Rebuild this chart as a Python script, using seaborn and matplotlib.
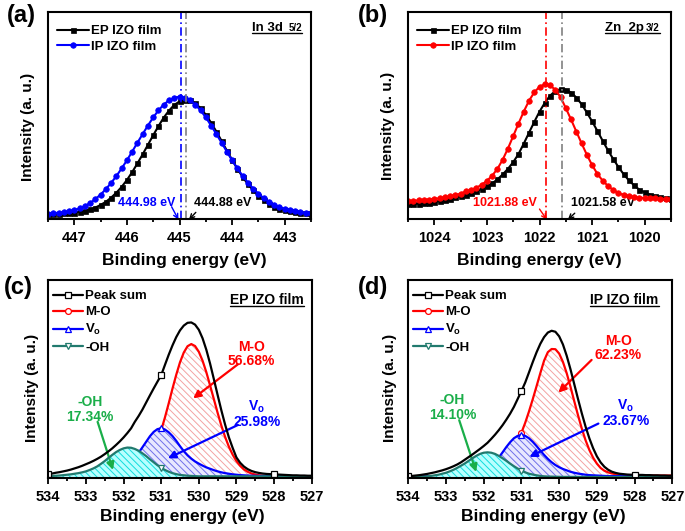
import matplotlib

matplotlib.use("Agg")
import matplotlib.pyplot as plt
import numpy as np
import seaborn as sns
from matplotlib.ticker import MultipleLocator

# ------------------------------------------------------------------ data
# binding-energy sampling of each scan (eV, high -> low)
in3d_energy = np.linspace(447.5, 442.5, 51)
zn2p_energy = np.linspace(1024.5, 1019.5, 51)
o1s_energy = np.linspace(534.0, 527.0, 71)

# (a) In 3d5/2, intensity in a.u.
in3d_ep = [2.5, 2.5, 2.6, 2.7, 2.9, 3.1, 3.5, 3.9, 4.6, 5.5,
           6.8, 8.3, 10.3, 12.7, 15.5, 18.8, 22.6, 26.8, 31.2, 35.8,
           40.4, 44.8, 48.9, 52.3, 55.0, 56.7, 57.5, 57.2, 55.8, 53.5,
           50.3, 46.5, 42.2, 37.7, 33.0, 28.5, 24.2, 20.3, 16.8, 13.8,
           11.2, 9.1, 7.4, 6.0, 5.0, 4.2, 3.7, 3.2, 3.0, 2.8, 2.6]
in3d_ip = [2.6, 2.8, 3.0, 3.3, 3.7, 4.3, 5.1, 6.2, 7.7, 9.6,
           11.8, 14.4, 17.4, 20.7, 24.4, 28.3, 32.5, 36.8, 41.0, 45.1,
           49.0, 52.4, 55.2, 57.2, 58.5, 59.0, 58.6, 57.3, 55.2, 52.4,
           49.0, 45.1, 41.0, 36.8, 32.5, 28.3, 24.4, 20.8, 17.6, 14.7,
           12.2, 10.1, 8.3, 6.9, 5.8, 4.9, 4.2, 3.7, 3.3, 3.0, 2.8]
in3d_peak_ep = 444.88
in3d_peak_ip = 444.98

# (b) Zn 2p3/2
zn2p_ep = [7.1, 7.2, 7.4, 7.6, 7.9, 8.2, 8.6, 9.1, 9.7, 10.4,
           11.0, 11.8, 12.6, 13.5, 14.5, 15.7, 17.2, 19.1, 21.5, 24.2,
           27.4, 31.3, 36.3, 41.6, 46.8, 51.8, 56.0, 59.5, 61.7, 62.7,
           62.4, 61.0, 58.6, 55.4, 51.4, 47.1, 42.5, 37.8, 33.2, 29.0,
           25.1, 21.6, 18.6, 16.2, 14.1, 12.8, 11.8, 11.0, 10.4, 10.0, 9.6]
zn2p_ip = [8.7, 8.8, 9.0, 9.2, 9.4, 9.7, 10.0, 10.4, 10.9, 11.5,
           12.3, 13.3, 14.0, 15.1, 16.5, 18.4, 20.9, 24.2, 28.6, 34.0,
           40.0, 46.0, 51.8, 57.0, 61.1, 63.8, 65.0, 64.4, 62.4, 58.8,
           53.5, 48.0, 42.2, 36.5, 31.0, 26.0, 21.8, 18.5, 16.0, 14.0,
           12.6, 11.6, 11.0, 10.6, 10.3, 10.1, 10.0, 9.9, 9.8, 9.7, 9.6]
zn2p_peak_ep = 1021.58
zn2p_peak_ip = 1021.88

# (c) O 1s, EP IZO film
ep_total = [2.0, 2.4, 2.8, 3.1, 3.5, 3.9, 4.4, 5.0, 5.6, 6.3,
            7.1, 7.9, 8.8, 9.8, 10.9, 12.2, 13.6, 15.1, 16.8, 18.6,
            20.6, 22.8, 25.2, 28.5, 31.4, 34.6, 38.2, 41.8, 45.3, 48.7,
            52.0, 57.2, 62.3, 67.0, 71.2, 74.6, 77.0, 78.4, 78.6, 77.5,
            74.9, 70.6, 64.8, 57.8, 50.0, 42.0, 34.2, 27.0, 20.6, 15.3,
            10.5, 7.8, 5.9, 4.6, 3.7, 3.1, 2.7, 2.4, 2.2, 2.1,
            2.0, 1.9, 1.8, 1.7, 1.6, 1.5, 1.5, 1.4, 1.4, 1.3, 1.3]
ep_mo = [1.0, 1.0, 1.0, 1.0, 1.0, 1.0, 1.0, 1.0, 1.0, 1.0,
         1.0, 1.0, 1.0, 1.0, 1.0, 1.0, 1.0, 1.0, 1.1, 1.2,
         1.3, 1.6, 2.0, 2.6, 3.6, 5.1, 7.2, 10.1, 13.8, 18.5,
         24.2, 30.7, 37.8, 45.2, 52.2, 58.5, 63.4, 66.6, 67.7, 66.7,
         63.8, 59.3, 53.5, 46.8, 39.9, 33.0, 26.5, 20.8, 15.9, 11.9,
         8.7, 6.3, 4.5, 3.3, 2.4, 1.9, 1.5, 1.3, 1.2, 1.1,
         1.1, 1.0, 1.0, 1.0, 1.0, 1.0, 1.0, 1.0, 1.0, 1.0, 1.0]
ep_vo = [1.0, 1.0, 1.0, 1.0, 1.0, 1.05, 1.05, 1.05, 1.1, 1.1,
         1.1, 1.1, 1.2, 1.3, 1.4, 1.6, 1.9, 2.3, 2.9, 3.8,
         4.9, 6.4, 8.2, 10.4, 12.9, 15.6, 18.4, 21.2, 23.4, 24.8,
         25.2, 24.6, 23.2, 21.3, 18.9, 16.2, 13.7, 11.6, 9.9, 8.5,
         7.4, 6.4, 5.5, 4.8, 4.1, 3.5, 3.0, 2.6, 2.3, 2.0,
         1.8, 1.6, 1.5, 1.4, 1.3, 1.25, 1.2, 1.2, 1.15, 1.1,
         1.1, 1.1, 1.05, 1.05, 1.05, 1.0, 1.0, 1.0, 1.0, 1.0, 1.0]
ep_oh = [1.1, 1.2, 1.3, 1.4, 1.6, 1.8, 2.0, 2.3, 2.6, 3.0,
         3.5, 4.2, 5.0, 6.0, 7.3, 8.7, 10.3, 11.8, 13.2, 14.3,
         15.1, 15.5, 15.4, 14.8, 13.9, 12.6, 11.2, 9.6, 8.1, 6.6,
         5.3, 4.2, 3.3, 2.6, 2.1, 1.7, 1.5, 1.3, 1.2, 1.1,
         1.0, 1.0, 1.0, 1.0, 1.0, 1.0, 1.0, 1.0, 1.0, 1.0,
         1.0, 1.0, 1.0, 1.0, 1.0, 1.0, 1.0, 1.0, 1.0, 1.0,
         1.0, 1.0, 1.0, 1.0, 1.0, 1.0, 1.0, 1.0, 1.0, 1.0, 1.0]
ep_shares = ["56.68%", "25.98%", "17.34%"]

# (d) O 1s, IP IZO film
ip_total = [1.0, 1.2, 1.4, 1.6, 1.9, 2.2, 2.6, 3.0, 3.5, 4.0,
            4.6, 5.3, 6.1, 7.0, 8.1, 9.4, 10.7, 12.0, 13.4, 14.8,
            16.3, 17.9, 19.9, 22.0, 24.3, 26.8, 29.6, 32.6, 36.0, 40.0,
            44.0, 48.3, 53.4, 58.6, 63.5, 67.8, 71.2, 73.5, 74.4, 73.9,
            71.6, 67.5, 61.8, 55.0, 47.5, 40.0, 32.8, 26.1, 20.2, 15.2,
            11.1, 8.0, 5.8, 4.3, 3.3, 2.7, 2.3, 2.1, 1.9, 1.8,
            1.8, 1.7, 1.7, 1.6, 1.6, 1.5, 1.5, 1.4, 1.4, 1.3, 1.3]
ip_mo = [1.0, 1.0, 1.0, 1.0, 1.0, 1.0, 1.0, 1.0, 1.0, 1.0,
         1.0, 1.0, 1.0, 1.0, 1.0, 1.0, 1.0, 1.0, 1.2, 1.3,
         1.5, 1.9, 2.5, 3.4, 4.7, 6.4, 8.6, 11.3, 14.5, 18.6,
         23.0, 28.0, 33.7, 39.9, 46.4, 53.0, 59.3, 63.6, 65.2, 65.1,
         62.9, 58.7, 53.0, 46.2, 38.9, 31.8, 25.1, 19.2, 14.3, 10.4,
         7.4, 5.2, 3.8, 3.0, 2.4, 2.1, 1.9, 1.7, 1.6, 1.5,
         1.5, 1.4, 1.4, 1.4, 1.4, 1.4, 1.4, 1.4, 1.4, 1.4, 1.4]
ip_vo = [1.0, 1.0, 1.0, 1.0, 1.0, 1.0, 1.0, 1.05, 1.05, 1.05,
         1.1, 1.1, 1.1, 1.1, 1.2, 1.3, 1.5, 1.8, 2.2, 2.8,
         3.6, 4.8, 6.3, 8.2, 10.5, 13.1, 15.8, 18.2, 20.2, 21.4,
         21.8, 21.4, 20.2, 18.4, 16.3, 14.0, 11.8, 9.8, 8.1, 6.7,
         5.6, 4.7, 4.0, 3.3, 2.8, 2.4, 2.1, 1.8, 1.6, 1.5,
         1.4, 1.3, 1.2, 1.1, 1.1, 1.1, 1.1, 1.05, 1.05, 1.05,
         1.05, 1.0, 1.0, 1.0, 1.0, 1.0, 1.0, 1.0, 1.0, 1.0, 1.0]
ip_oh = [0.7, 0.7, 0.75, 0.8, 0.9, 1.0, 1.2, 1.5, 1.8, 2.3,
         2.8, 3.5, 4.3, 5.3, 6.4, 7.5, 8.8, 10.1, 11.3, 12.3,
         12.9, 13.1, 12.9, 12.3, 11.3, 10.1, 8.8, 7.4, 6.1, 4.9,
         3.8, 3.0, 2.3, 1.9, 1.5, 1.2, 1.0, 0.9, 0.85, 0.8,
         0.75, 0.7, 0.7, 0.7, 0.7, 0.7, 0.7, 0.7, 0.7, 0.7,
         0.7, 0.7, 0.7, 0.7, 0.7, 0.7, 0.7, 0.7, 0.7, 0.7,
         0.7, 0.7, 0.7, 0.7, 0.7, 0.7, 0.7, 0.7, 0.7, 0.7, 0.7]
ip_shares = ["62.23%", "23.67%", "14.10%"]

# ------------------------------------------------------------------ style
RED = "#ff0000"
BLUE = "#0000ff"
TEAL = "#217a6e"
GREEN = "#1aae49"
GRAY = "#808080"
DASHDOT = (0, (5, 2, 1, 2))
VO = r"V$_\mathrm{o}$"

sns.set_style("ticks")
plt.rcParams.update(
    {
        "font.family": ["Liberation Sans", "DejaVu Sans"],
        "font.weight": "bold",
        "axes.labelweight": "bold",
        "text.color": "black",
        "axes.labelcolor": "black",
        "axes.edgecolor": "black",
        "xtick.color": "black",
        "axes.linewidth": 1.5,
        "xtick.direction": "out",
        "xtick.major.size": 4.0,
        "xtick.minor.size": 2.5,
        "xtick.major.width": 1.3,
        "xtick.minor.width": 1.3,
        "xtick.major.pad": 4.5,
        "xtick.minor.pad": 4.5,
        "xtick.labelsize": 10.5,
        "mathtext.fontset": "custom",
        "mathtext.rm": "Liberation Sans:bold",
        "mathtext.it": "Liberation Sans:bold",
        "mathtext.bf": "Liberation Sans:bold",
        "mathtext.default": "rm",
        "hatch.linewidth": 0.7,
    }
)


def style_axes(ax, xlim, ylabel_xy, xlabel_xy):
    ax.set_xlim(*xlim)
    ax.set_ylim(0, 100)
    ax.xaxis.set_major_locator(MultipleLocator(1))
    ax.xaxis.set_minor_locator(MultipleLocator(0.5))
    ax.set_yticks([])
    ax.tick_params(axis="x", which="both", top=False, bottom=True)
    for spine in ax.spines.values():
        spine.set_linewidth(1.5)
        spine.set_zorder(10)
    ax.set_xlabel("Binding energy (eV)", fontsize=12.5)
    ax.set_ylabel("Intensity (a. u.)", fontsize=11)
    ax.yaxis.set_label_coords(*ylabel_xy)
    ax.xaxis.set_label_coords(*xlabel_xy)


def arrow(ax, tail, head, color, lw=1.0, style="->", scale=8):
    ax.annotate("", xy=head, xytext=tail, annotation_clip=False,
                arrowprops=dict(arrowstyle=style, color=color, lw=lw,
                                mutation_scale=scale, shrinkA=0, shrinkB=0))


def corner_label(ax, main, small, x0, x1, y, size=9.5):
    t1 = ax.text(x0, y, main, transform=ax.transAxes, ha="left", va="baseline", fontsize=size)
    t2 = ax.text(x1, y, small, transform=ax.transAxes, ha="right", va="baseline", fontsize=size - 2.5) if small else None
    return (ax, [t for t in (t1, t2) if t is not None], y)


def core_level_panel(ax, energy, ep, ip, ip_color, ep_peak, ip_peak):
    sns.lineplot(x=energy, y=ep, ax=ax, estimator=None, sort=False, color="black",
                 linewidth=1.5, marker="s", markersize=3.6, markerfacecolor="black",
                 markeredgecolor="black", markeredgewidth=0.5, label="EP IZO film", zorder=3)
    sns.lineplot(x=energy, y=ip, ax=ax, estimator=None, sort=False, color=ip_color,
                 linewidth=1.5, marker="o", markersize=4.0, markerfacecolor=ip_color,
                 markeredgecolor=ip_color, markeredgewidth=0.5, label="IP IZO film", zorder=4)
    ax.axvline(ip_peak, color=ip_color, lw=1.2, ls=DASHDOT, zorder=5)
    ax.axvline(ep_peak, color=GRAY, lw=1.2, ls=DASHDOT, zorder=5)
    ax.legend(loc="upper left", bbox_to_anchor=(0.034, 0.935), frameon=False, borderpad=0,
              borderaxespad=0, handlelength=2.4, handletextpad=0.15, labelspacing=0.25,
              fontsize=9.5)


def o1s_panel(ax, total, mo, vo, oh):
    components = [
        (mo, "M-O", RED, "white", "#f3a3a3", "o"),
        (vo, VO, BLUE, "#e8e8ff", "#7070e8", "^"),
        (oh, "-OH", TEAL, "#b8ffff", "#10dcdc", "v"),
    ]
    for k, (vals, label, color, face, hatch_color, marker) in enumerate(components):
        ax.fill_between(o1s_energy, 0, vals, facecolor=face, edgecolor=hatch_color,
                        hatch="\\\\\\\\\\", linewidth=0, zorder=1 + k)
        sns.lineplot(x=o1s_energy, y=vals, ax=ax, estimator=None, sort=False, color=color,
                     linewidth=1.6, marker=marker, markersize=4.2, markerfacecolor="white",
                     markeredgecolor=color, markeredgewidth=0.9, markevery=30, label=label,
                     zorder=1.5 + k)
    sns.lineplot(x=o1s_energy, y=total, ax=ax, estimator=None, sort=False, color="black",
                 linewidth=1.6, marker="s", markersize=4.0, markerfacecolor="white",
                 markeredgecolor="black", markeredgewidth=0.9, markevery=30, label="Peak sum",
                 zorder=5)
    handles, labels = ax.get_legend_handles_labels()
    lookup = dict(zip(labels, handles))
    order = ["Peak sum", "M-O", VO, "-OH"]
    ax.legend([lookup[o] for o in order], order, loc="upper left", bbox_to_anchor=(0.017, 0.95),
              frameon=False, borderpad=0, borderaxespad=0, handlelength=2.3, handletextpad=0.15,
              labelspacing=0.3, fontsize=9.5)


fig = plt.figure(figsize=(6.85, 5.31), dpi=100)
ax_a = fig.add_axes([48 / 685, 1 - 219 / 531, 263 / 685, 207.3 / 531])
ax_b = fig.add_axes([408 / 685, 1 - 219 / 531, 263 / 685, 207.3 / 531])
ax_c = fig.add_axes([48.3 / 685, 1 - 478.3 / 531, 263.4 / 685, 198.3 / 531])
ax_d = fig.add_axes([408.3 / 685, 1 - 478.3 / 531, 264 / 685, 198.3 / 531])

underlines = []

# (a)
core_level_panel(ax_a, in3d_energy, in3d_ep, in3d_ip, BLUE, in3d_peak_ep, in3d_peak_ip)
style_axes(ax_a, (447.5, 442.5), (-0.049, 0.444), (0.52, -0.165))
ax_a.text(445.62, 7.6, f"{in3d_peak_ip:.2f} eV", color=BLUE, ha="center", va="center", fontsize=9)
ax_a.text(444.18, 7.6, f"{in3d_peak_ep:.2f} eV", color="black", ha="center", va="center", fontsize=9)
arrow(ax_a, (445.15, 5.9), (445.02, -0.3), BLUE)
arrow(ax_a, (444.69, 3.2), (444.82, -0.3), "black")
underlines.append(corner_label(ax_a, "In 3d", "5/2", 0.776, 0.966, 0.907))

# (b)
core_level_panel(ax_b, zn2p_energy, zn2p_ep, zn2p_ip, RED, zn2p_peak_ep, zn2p_peak_ip)
style_axes(ax_b, (1024.5, 1019.5), (-0.049, 0.449), (0.5, -0.165))
ax_b.text(1022.65, 7.7, f"{zn2p_peak_ip:.2f} eV", color=RED, ha="center", va="center", fontsize=9)
ax_b.text(1020.80, 7.7, f"{zn2p_peak_ep:.2f} eV", color="black", ha="center", va="center", fontsize=9)
arrow(ax_b, (1022.0, 4.8), (1021.86, -0.3), RED)
arrow(ax_b, (1021.33, 2.8), (1021.46, -0.3), "black")
underlines.append(corner_label(ax_b, "Zn  2p", "3/2", 0.749, 0.958, 0.907))

# (c)
o1s_panel(ax_c, ep_total, ep_mo, ep_vo, ep_oh)
style_axes(ax_c, (534, 527), (-0.036, 0.458), (0.51, -0.155))
ax_c.text(528.6, 62.6, f"M-O\n{ep_shares[0]}", color=RED, ha="center", va="center", fontsize=10, linespacing=1.05)
ax_c.text(528.46, 32.3, f"{VO}\n{ep_shares[1]}", color=BLUE, ha="center", va="center", fontsize=10, linespacing=1.0)
ax_c.text(532.89, 34.8, f"-OH\n{ep_shares[2]}", color=GREEN, ha="center", va="center", fontsize=10, linespacing=1.05)
arrow(ax_c, (528.96, 57.5), (530.15, 40.3), RED, lw=1.6, style="-|>", scale=11)
arrow(ax_c, (528.96, 26.9), (530.82, 10.1), BLUE, lw=1.6, style="-|>", scale=11)
arrow(ax_c, (532.69, 28.5), (532.28, 4.2), GREEN, lw=1.6, style="-|>", scale=11)
underlines.append(corner_label(ax_c, "EP IZO film", None, 0.690, 0.975, 0.881, size=10))

# (d)
o1s_panel(ax_d, ip_total, ip_mo, ip_vo, ip_oh)
style_axes(ax_d, (534, 527), (-0.043, 0.458), (0.51, -0.155))
ax_d.text(528.43, 65.8, f"M-O\n{ip_shares[0]}", color=RED, ha="center", va="center", fontsize=10, linespacing=1.05)
ax_d.text(528.23, 33.1, f"{VO}\n{ip_shares[1]}", color=BLUE, ha="center", va="center", fontsize=10, linespacing=1.0)
ax_d.text(532.83, 35.7, f"-OH\n{ip_shares[2]}", color=GREEN, ha="center", va="center", fontsize=10, linespacing=1.05)
arrow(ax_d, (529.14, 59.7), (530.02, 43.2), RED, lw=1.6, style="-|>", scale=11)
arrow(ax_d, (528.96, 27.6), (530.79, 10.8), BLUE, lw=1.6, style="-|>", scale=11)
arrow(ax_d, (532.65, 29.3), (532.2, 3.2), GREEN, lw=1.6, style="-|>", scale=11)
underlines.append(corner_label(ax_d, "IP IZO film", None, 0.690, 0.972, 0.881, size=10))

for label, (x, y) in zip("abcd", [(0.031, 0.970), (0.545, 0.970), (0.027, 0.4595), (0.545, 0.4595)]):
    fig.text(x, y, f"({label})", fontsize=17, ha="center", va="center")

# underline the corner labels using their rendered extents
fig.canvas.draw()
renderer = fig.canvas.get_renderer()
for ax, texts, y in underlines:
    boxes = [t.get_window_extent(renderer) for t in texts]
    x0 = min(b.x0 for b in boxes)
    x1 = max(b.x1 for b in boxes)
    inv = ax.transAxes.inverted()
    (ax0, _), (ax1, _) = inv.transform([[x0, 0], [x1, 0]])
    dy = 2.0 / ax.bbox.height
    ax.plot([ax0, ax1], [y - dy, y - dy], transform=ax.transAxes, color="black", lw=1.0,
            clip_on=False, zorder=10)

fig.savefig("out.png", dpi=100)
